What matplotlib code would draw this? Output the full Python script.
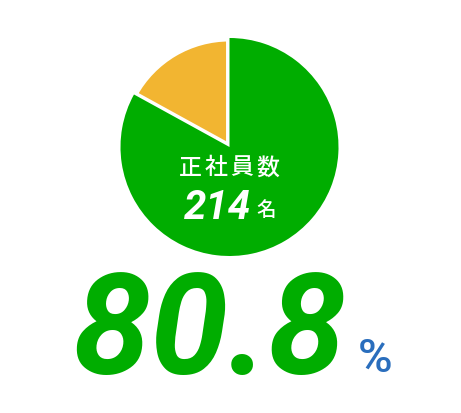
import matplotlib.pyplot as plt

# pie shares (green = 正社員)
shares = [17, 83]
colors = ['#F2B531', '#00AD00']
label = '正社員数'
count = '214'
count_unit = '名'
ratio = '80.8'
ratio_unit = '%'

W, H = 461, 413
fig = plt.figure(figsize=(W / 100, H / 100), dpi=100)

# pie axes (center ~ (229.5, 147) px, radius ~109 px)
cx, cy, r = 229.5, 147, 109
ax = fig.add_axes([(cx - r) / W, (H - cy - r) / H, 2 * r / W, 2 * r / H])
wedges, _ = ax.pie(shares, colors=colors, startangle=90, counterclock=True,
                   radius=1, wedgeprops=dict(linewidth=0))
wedges[0].set_edgecolor('white')
wedges[0].set_linewidth(5)
ax.set_xlim(-1, 1)
ax.set_ylim(-1, 1)
ax.set_aspect('equal')
ax.axis('off')

# overlay for text, pixel coords with y down
ov = fig.add_axes([0, 0, 1, 1])
ov.set_xlim(0, W)
ov.set_ylim(H, 0)
ov.axis('off')

jp = ['Noto Sans CJK JP', 'DejaVu Sans']
pitch = 26
for i, ch in enumerate(label):
    ov.text(229 - 1.5 * pitch + i * pitch, 168, ch, color='white', fontsize=16.5,
            family=jp, weight='medium', ha='center', va='center')

ov.text(251, 208, count, color='white', fontsize=29, family='Roboto',
        weight='bold', style='italic', ha='right', va='center')
ov.text(266, 210, count_unit, color='white', fontsize=14, family=jp,
        weight='medium', ha='center', va='center')

ov.text(210, 335, ratio, color='#00AD00', fontsize=101, family='Roboto',
        weight='bold', style='italic', ha='center', va='center')
ov.text(375, 359, ratio_unit, color='#2A6EBD', fontsize=34, family='Roboto',
        weight='medium', ha='center', va='center')

fig.savefig('out.png', dpi=100)
